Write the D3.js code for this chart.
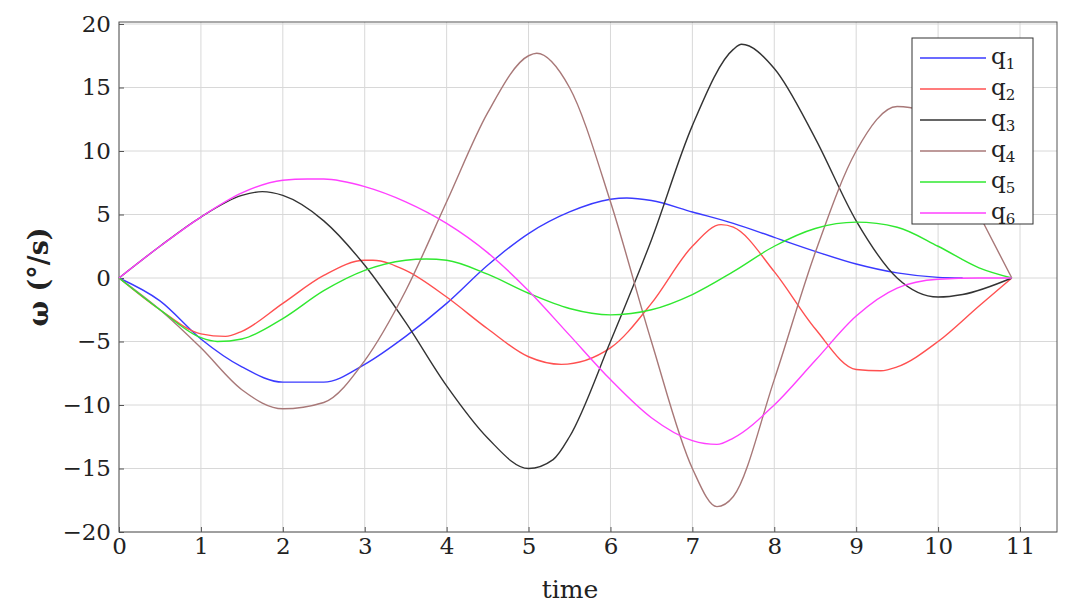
<!DOCTYPE html><html><head><meta charset="utf-8"><script src="https://cdn.jsdelivr.net/npm/d3@7"></script>
<style>body{margin:0;background:#fff}text{font-family:"DejaVu Serif","Liberation Serif",serif}</style></head><body><svg id="c" width="1072" height="611"></svg><script>
const xTicks=[0,1,2,3,4,5,6,7,8,9,10,11];
const yTicks=[-20,-15,-10,-5,0,5,10,15,20];
const names=["1","2","3","4","5","6"];
const colors=["#3a3aff","#ff5050","#333333","#a87878","#30e830","#ff40ff"];
const q1=[[0,0],[0.5,-1.8],[1,-4.8],[1.5,-7],[2,-8.2],[2.5,-8.2],[3,-6.8],[3.5,-4.6],[4,-2],[4.5,1],[5,3.5],[5.5,5.2],[6,6.2],[6.2,6.3],[6.5,6.1],[7,5.2],[7.5,4.3],[8,3.2],[8.5,2.1],[9,1.1],[9.5,0.4],[10,0.05],[10.3,0]];
const q2=[[0,0],[0.5,-2.5],[1,-4.4],[1.3,-4.6],[1.5,-4.2],[2,-2],[2.5,0.2],[3,1.4],[3.1,1.4],[3.5,0.6],[4,-1.5],[4.5,-4],[5,-6.2],[5.4,-6.8],[6,-5.5],[6.5,-2],[7,2.5],[7.35,4.2],[7.5,4],[8,0.5],[8.5,-4],[9,-7.2],[9.3,-7.3],[9.5,-7],[10,-5],[10.5,-2.2],[10.9,0]];
const q3=[[0,0],[0.5,2.5],[1,4.8],[1.5,6.5],[1.75,6.8],[2,6.5],[2.5,4.5],[3,1],[3.5,-3.5],[4,-8.5],[4.5,-12.6],[5,-15],[5.3,-14.3],[5.5,-12.5],[6,-5],[6.5,3],[7,12],[7.5,18],[7.6,18.4],[8,16.5],[8.5,11],[9,4.5],[9.5,0],[10,-1.5],[10.3,-1.3],[10.9,0]];
const q4=[[0,0],[0.5,-2.5],[1,-5.5],[1.5,-8.8],[2,-10.3],[2.5,-9.8],[3,-6.5],[3.5,-1],[4,6],[4.5,13],[5,17.5],[5.1,17.7],[5.5,15],[6,6],[6.5,-5],[7,-15],[7.3,-18],[7.5,-17.2],[8,-8],[8.5,2],[9,10],[9.5,13.5],[9.8,13.2],[10,11],[10.5,5],[10.9,0]];
const q5=[[0,0],[0.5,-2.5],[1,-4.7],[1.2,-5],[1.5,-4.8],[2,-3.2],[2.5,-1],[3,0.6],[3.5,1.4],[3.75,1.5],[4,1.4],[4.5,0.3],[5,-1.2],[5.5,-2.4],[6,-2.9],[6.5,-2.5],[7,-1.3],[7.5,0.5],[8,2.5],[8.5,3.9],[9,4.4],[9.5,4],[10,2.5],[10.5,0.8],[10.9,0]];
const q6=[[0,0],[0.5,2.5],[1,4.8],[1.5,6.7],[2,7.7],[2.3,7.8],[2.5,7.8],[3,7.2],[3.5,6],[4,4.3],[4.5,2],[5,-1],[5.5,-4.5],[6,-8],[6.5,-11],[7,-12.8],[7.3,-13.1],[7.5,-12.6],[8,-10],[8.5,-6.5],[9,-3],[9.5,-0.8],[10,-0.1],[10.5,0],[10.9,0]];
const series=[q1,q2,q3,q4,q5,q6];
const svg=d3.select("#c");
const x=d3.scaleLinear().domain([0,11]).range([119,1020]);
const y=d3.scaleLinear().domain([-20,20]).range([532,24]);
const L=119,R=1057,T=22,B=532;
const g=svg.append("g");
xTicks.forEach(t=>g.append("line").attr("x1",x(t)).attr("x2",x(t)).attr("y1",T).attr("y2",B).attr("stroke","#d8d8d8"));
yTicks.forEach(t=>g.append("line").attr("x1",L).attr("x2",R).attr("y1",y(t)).attr("y2",y(t)).attr("stroke","#d8d8d8"));
g.append("rect").attr("x",L).attr("y",T).attr("width",R-L).attr("height",B-T).attr("fill","none").attr("stroke","#555");
const xa=svg.append("g").attr("transform",`translate(0,${B})`).call(d3.axisBottom(x).tickValues(xTicks).tickFormat(d3.format("d")).tickSize(-5).tickPadding(6));
const ya=svg.append("g").attr("transform",`translate(${L},0)`).call(d3.axisLeft(y).tickValues(yTicks).tickFormat(d=>d<0?"\u2212"+(-d):d).tickSize(-5).tickPadding(8));
[xa,ya].forEach(a=>{a.select(".domain").remove();a.selectAll("line").attr("stroke","#555");a.selectAll("text").attr("font-size",23).attr("fill","#222")});
const line=d3.line().x(d=>x(d[0])).y(d=>y(d[1])).curve(d3.curveMonotoneX);
series.forEach((s,i)=>svg.append("path").attr("d",line(s)).attr("fill","none").attr("stroke",colors[i]).attr("stroke-width",1.4));
svg.append("text").attr("x",570).attr("y",598).attr("text-anchor","middle").attr("font-size",25).attr("fill","#222").text("time");
svg.append("text").attr("transform","translate(48,277) rotate(-90)").attr("text-anchor","middle").attr("font-size",27).attr("font-weight","bold").attr("fill","#222").text("ω (°/s)");
const lg=svg.append("g");
lg.append("rect").attr("x",912).attr("y",38).attr("width",121).attr("height",186).attr("fill","#fff").attr("stroke","#333");
names.forEach((n,i)=>{const yy=58+i*31;
lg.append("line").attr("x1",920).attr("x2",986).attr("y1",yy).attr("y2",yy).attr("stroke",colors[i]).attr("stroke-width",1.4);
const t=lg.append("text").attr("x",991).attr("y",yy+6).attr("font-size",23).attr("fill","#222").text("q");
t.append("tspan").attr("font-size",15).attr("dy",5).text(n);});
</script></body></html>
